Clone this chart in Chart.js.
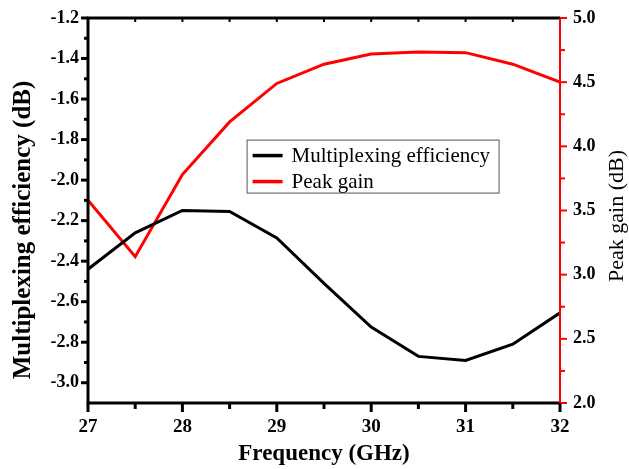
<!DOCTYPE html>
<html>
<head>
<meta charset="utf-8">
<script src="https://cdn.jsdelivr.net/npm/chart.js@4.4.0/dist/chart.umd.min.js"></script>
<style>
html, body { margin: 0; padding: 0; background: #fff; }
#wrap { width: 629px; height: 469px; }
</style>
</head>
<body>
<div id="wrap"><canvas id="chartEff"></canvas></div>
<script>
const freq = [27, 27.5, 28, 28.5, 29, 29.5, 30, 30.5, 31, 31.5, 32]
const effData = [-2.44, -2.26, -2.15, -2.155, -2.285, -2.51, -2.725, -2.87, -2.89, -2.81, -2.655]
const gainData = [3.58, 3.14, 3.78, 4.19, 4.49, 4.64, 4.72, 4.735, 4.73, 4.64, 4.50]
const xTicks = [27, 28, 29, 30, 31, 32]
const effTicks = [-3.0, -2.8, -2.6, -2.4, -2.2, -2.0, -1.8, -1.6, -1.4, -1.2]
const gainTicks = [2.0, 2.5, 3.0, 3.5, 4.0, 4.5, 5.0]
const effTitle = 'Multiplexing efficiency (dB)'
const gainTitle = 'Peak gain (dB)'

const serif = "'Liberation Serif', 'Times New Roman', serif"

// axis frame + major/minor ticks, drawn through the scales
const frame = {
    id: 'frame',
    afterDatasetsDraw(chart) {
        const ctx = chart.ctx
        const a = chart.chartArea
        const sx = chart.scales.x, yl = chart.scales.y, yr = chart.scales.y2
        ctx.save()
        function seg(x1, y1, x2, y2, color, w) {
            ctx.beginPath()
            ctx.strokeStyle = color
            ctx.lineWidth = w
            ctx.moveTo(x1, y1)
            ctx.lineTo(x2, y2)
            ctx.stroke()
        }
        // bottom / top ticks
        for (let i = 0; i < xTicks.length; i++) {
            const x = sx.getPixelForValue(xTicks[i])
            seg(x, a.bottom, x, a.bottom + 9, '#000', 3)
            seg(x, a.top, x, a.top + 4, '#000', 2)
            if (i < xTicks.length - 1) {
                const xm = sx.getPixelForValue((xTicks[i] + xTicks[i + 1]) / 2)
                seg(xm, a.bottom, xm, a.bottom + 6, '#000', 3)
                seg(xm, a.top, xm, a.top + 4, '#000', 2)
            }
        }
        // left ticks
        for (let i = 0; i < effTicks.length; i++) {
            const y = yl.getPixelForValue(effTicks[i])
            seg(a.left, y, a.left - 7, y, '#000', 3)
            if (i < effTicks.length - 1) {
                const ym = yl.getPixelForValue((effTicks[i] + effTicks[i + 1]) / 2)
                seg(a.left, ym, a.left - 4, ym, '#000', 3)
            }
        }
        // right ticks
        for (let i = 0; i < gainTicks.length; i++) {
            const y = yr.getPixelForValue(gainTicks[i])
            seg(a.right, y, a.right + 7, y, '#ff0000', 2)
            if (i < gainTicks.length - 1) {
                const ym = yr.getPixelForValue((gainTicks[i] + gainTicks[i + 1]) / 2)
                seg(a.right, ym, a.right + 5, ym, '#ff0000', 2)
            }
        }
        // frame
        seg(a.left - 1, a.top, a.right, a.top, '#000', 3)
        seg(a.left - 1, a.bottom, a.right + 1, a.bottom, '#000', 3)
        seg(a.left, a.top - 1, a.left, a.bottom + 1, '#000', 3)
        seg(a.right, a.top, a.right, a.bottom, '#ff0000', 2)

        // y titles, both reading bottom to top
        ctx.fillStyle = '#000'
        ctx.textAlign = 'center'
        ctx.textBaseline = 'middle'
        ctx.save()
        ctx.translate(24, 230)
        ctx.rotate(-Math.PI / 2)
        ctx.font = 'bold 25px ' + serif
        ctx.fillText(effTitle, 0, 0)
        ctx.restore()
        ctx.save()
        ctx.translate(617, 216)
        ctx.rotate(-Math.PI / 2)
        ctx.font = '22px ' + serif
        ctx.fillText(gainTitle, 0, 0)
        ctx.restore()

        // legend box inside the plot
        const lx = sx.getPixelForValue(28.68), ly = yl.getPixelForValue(-1.80)
        ctx.fillStyle = '#fff'
        ctx.fillRect(lx, ly, 252, 53)
        ctx.strokeStyle = '#555'
        ctx.lineWidth = 1
        ctx.strokeRect(lx + 0.5, ly + 0.5, 252, 53)
        ctx.font = '21px ' + serif
        ctx.textAlign = 'left'
        ctx.textBaseline = 'middle'
        chart.data.datasets.forEach(function (ds, k) {
            const yy = ly + 16 + k * 26
            seg(lx + 6, yy, lx + 36, yy, ds.borderColor, 3.5)
            ctx.fillStyle = '#000'
            ctx.fillText(ds.label, lx + 45, yy + 1)
        })
        ctx.restore()
    }
}

const ctxEff = document.getElementById('chartEff').getContext('2d')
const chartEff = new Chart(ctxEff, {
    type: 'line',
    data: {
        datasets: [
            {
                label: 'Multiplexing efficiency',
                data: freq.map((f, i) => ({ x: f, y: effData[i] })),
                borderColor: '#000000',
                borderWidth: 3,
                pointRadius: 0,
                yAxisID: 'y'
            },
            {
                label: 'Peak gain',
                data: freq.map((f, i) => ({ x: f, y: gainData[i] })),
                borderColor: '#ff0000',
                borderWidth: 3,
                pointRadius: 0,
                yAxisID: 'y2'
            }
        ]
    },
    options: {
        responsive: true,
        maintainAspectRatio: false,
        animation: false,
        layout: { padding: { top: 18, left: 0, right: 0, bottom: 0 } },
        plugins: { legend: { display: false }, tooltip: { enabled: false } },
        scales: {
            x: {
                type: 'linear',
                min: 27,
                max: 32,
                afterBuildTicks: s => { s.ticks = xTicks.map(v => ({ value: v })) },
                afterFit: s => { s.height = 66; s.paddingLeft = 0; s.paddingRight = 0 },
                grid: { display: false, drawTicks: false },
                border: { display: false },
                ticks: { color: '#000', padding: 13, font: { family: serif, size: 19, weight: 'bold' } },
                title: { display: true, text: 'Frequency (GHz)', color: '#000', padding: { top: 4, bottom: 1 },
                    font: { family: serif, size: 23, weight: 'bold' } }
            },
            y: {
                position: 'left',
                min: -3.1,
                max: -1.2,
                afterBuildTicks: s => { s.ticks = effTicks.map(v => ({ value: v })) },
                afterFit: s => { s.width = 88; s.paddingTop = 0; s.paddingBottom = 0 },
                grid: { display: false, drawTicks: false },
                border: { display: false },
                ticks: { color: '#000', padding: 9, callback: v => v.toFixed(1),
                    font: { family: serif, size: 18, weight: 'bold' } }
            },
            y2: {
                position: 'right',
                min: 2.0,
                max: 5.0,
                afterBuildTicks: s => { s.ticks = gainTicks.map(v => ({ value: v })) },
                afterFit: s => { s.width = 69; s.paddingTop = 0; s.paddingBottom = 0 },
                grid: { display: false, drawTicks: false },
                border: { display: false },
                ticks: { color: '#000', padding: 13, callback: v => v.toFixed(1),
                    font: { family: serif, size: 18, weight: 'bold' } }
            }
        }
    },
    plugins: [frame]
})
</script>
</body>
</html>
